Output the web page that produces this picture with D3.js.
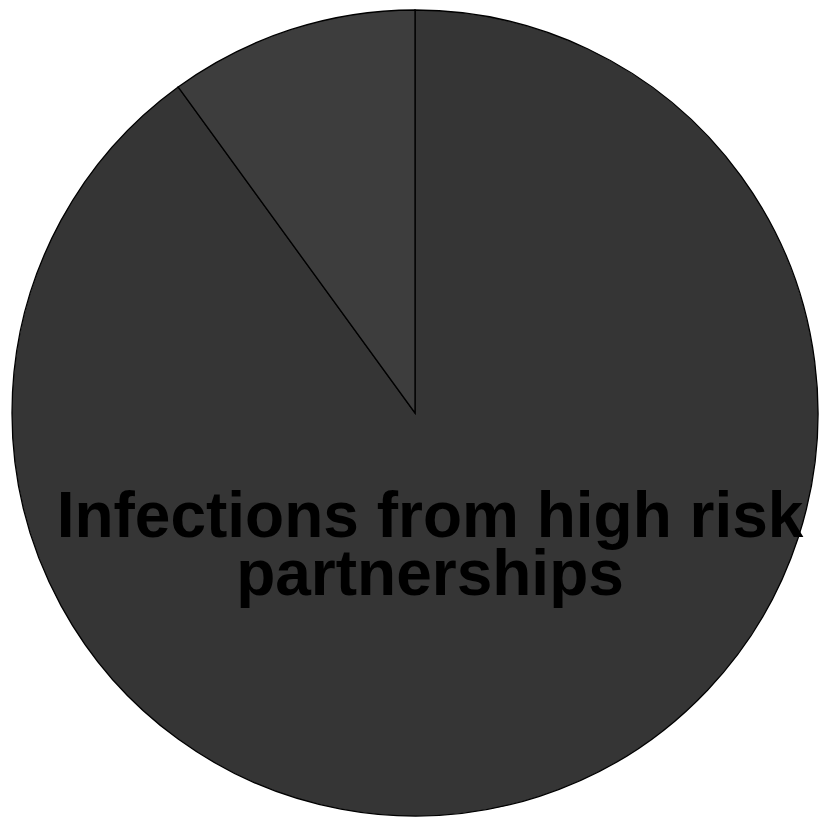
<!DOCTYPE html>
<html>
<head>
<meta charset="utf-8">
<script src="https://cdn.jsdelivr.net/npm/d3@7"></script>
<style>
  html, body { margin: 0; padding: 0; background: #ffffff; }
  svg { display: block; }
</style>
</head>
<body>
<svg id="chart" width="820" height="818"></svg>
<script>
// Share of infections by partnership type
const categories = ["Infections from high risk partnerships", "Other infections"];
const values = [90, 10];
const sliceColors = ["#353535", "#3d3d3d"];
const labelLines = [["Infections from high risk", "partnerships"], []];

const svg = d3.select("#chart");
const cx = 415, cy = 413, radius = 403;

const g = svg.append("g").attr("transform", `translate(${cx},${cy})`);

const pie = d3.pie().sort(null).value(d => d.value);
const arc = d3.arc().innerRadius(0).outerRadius(radius);

const data = categories.map((c, i) => ({ category: c, value: values[i], color: sliceColors[i], lines: labelLines[i] }));
const arcs = pie(data);

g.selectAll("path.slice")
  .data(arcs)
  .enter()
  .append("path")
  .attr("class", "slice")
  .attr("d", arc)
  .attr("fill", d => d.data.color)
  .attr("stroke", "#000000")
  .attr("stroke-width", 1.3);

// Slice label for the dominant category
const fontSize = 64;
const lineGap = 58;
arcs.forEach(a => {
  if (!a.data.lines.length) return;
  const text = g.append("text")
    .attr("text-anchor", "middle")
    .attr("font-family", "Liberation Sans, Arial, sans-serif")
    .attr("font-weight", "bold")
    .attr("font-size", fontSize)
    .attr("fill", "#000000");
  a.data.lines.forEach((line, i) => {
    text.append("tspan")
      .attr("x", 15)
      .attr("y", 124 + i * lineGap)
      .text(line);
  });
});
</script>
</body>
</html>
